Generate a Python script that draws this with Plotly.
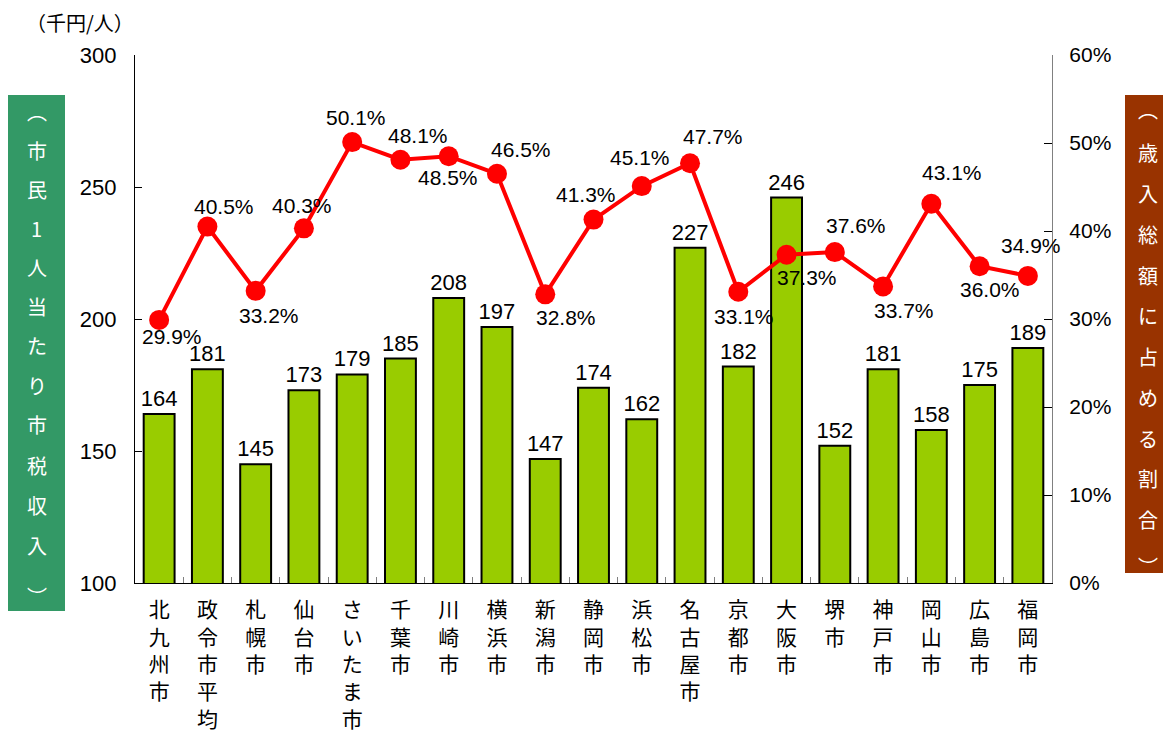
import plotly.graph_objects as go

cities = ["北九州市", "政令市平均", "札幌市", "仙台市", "さいたま市", "千葉市", "川崎市", "横浜市",
          "新潟市", "静岡市", "浜松市", "名古屋市", "京都市", "大阪市", "堺市", "神戸市",
          "岡山市", "広島市", "福岡市"]
tax_per_capita = [164, 181, 145, 173, 179, 185, 208, 197, 147, 174, 162, 227, 182, 246, 152, 181, 158, 175, 189]
share_pct = [29.9, 40.5, 33.2, 40.3, 50.1, 48.1, 48.5, 46.5, 32.8, 41.3, 45.1, 47.7, 33.1, 37.3, 37.6, 33.7, 43.1, 36.0, 34.9]
left_title = ["︵", "市", "民", "1", "人", "当", "た", "り", "市", "税", "収", "入", "︶"]
right_title = ["︵", "歳", "入", "総", "額", "に", "占", "め", "る", "割", "合", "︶"]
unit_label = "（千円/人）"

# label offsets (pixels) of the percentage labels relative to their points
lab_dx = [13, 17, 13, -2, 4, 18, -1, 24, 21, -8, -2, 23, 6, 20, 21, 21, 21, 10, 3]
lab_dy = [18, -19, 26, -22, -24, -23, 22, -23, 24, -24, -28, -26, 26, 24, -26, 25, -30, 24, -29]

OFF = 8  # browser body margin
W, H = 1171 - OFF, 731 - OFF
SL, SR, ST, SB = 135, 1052, 55, 583  # plot area in screen pixels
L, R, T, B = SL - OFF, SR - OFF, ST - OFF, SB - OFF
CJK = "Noto Sans CJK JP"
LAT = "Liberation Sans, Arial, sans-serif"


def px(x):
    return (x - SL) / (SR - SL)


def py(y):
    return (SB - y) / (SB - ST)


tick_text = ["<br>".join(list(c)) for c in cities]

fig = go.Figure()
fig.add_trace(go.Bar(
    x=cities, y=tax_per_capita,
    marker=dict(color="#99CC00", line=dict(color="#000000", width=2)),
    text=[str(v) for v in tax_per_capita], textposition="outside", constraintext="none",
    textfont=dict(family=LAT, size=22, color="#000000"),
    cliponaxis=False, yaxis="y", width=0.64,
))
fig.add_trace(go.Scatter(
    x=cities, y=share_pct, yaxis="y2", mode="lines+markers",
    line=dict(color="#FF0000", width=4),
    marker=dict(color="#FF0000", size=20),
    cliponaxis=False,
))

shapes = [
    dict(type="rect", xref="paper", yref="paper", x0=px(8), x1=px(65), y0=py(611), y1=py(95),
         fillcolor="#339966", line=dict(width=0), layer="below"),
    dict(type="rect", xref="paper", yref="paper", x0=px(1125), x1=px(1180), y0=py(573), y1=py(95),
         fillcolor="#993300", line=dict(width=0), layer="below"),
]

annotations = [
    dict(text=unit_label, xref="paper", yref="paper", x=px(24), y=py(22), xanchor="left", yanchor="middle",
         showarrow=False, font=dict(family=CJK, size=20, color="#000000")),
]
for c, v, dx, dy in zip(cities, share_pct, lab_dx, lab_dy):
    annotations.append(dict(text=f"{v:.1f}%", xref="x", yref="y2", x=c, y=v,
                            xanchor="center", yanchor="middle", xshift=dx, yshift=-dy + 1,
                            showarrow=False, font=dict(family=LAT, size=21, color="#000000")))
left_y = [112, 150, 189, 228, 267, 306, 345, 385, 425, 465, 505, 545, 596]
for ch, yy in zip(left_title, left_y):
    annotations.append(dict(text=ch, xref="paper", yref="paper", x=px(36.5), y=py(yy),
                            xanchor="center", yanchor="middle", showarrow=False,
                            font=dict(family=CJK, size=20, color="#FFFFFF")))
right_y = [110, 152, 193, 234, 275, 315, 356, 397, 438, 478, 519, 566]
for ch, yy in zip(right_title, right_y):
    annotations.append(dict(text=ch, xref="paper", yref="paper", x=px(1148), y=py(yy),
                            xanchor="center", yanchor="middle", showarrow=False,
                            font=dict(family=CJK, size=20, color="#FFFFFF")))

fig.update_layout(
    width=W, height=H,
    margin=dict(l=L, r=W - R, t=T, b=H - B, pad=0, autoexpand=False),
    paper_bgcolor="#FFFFFF", plot_bgcolor="#FFFFFF",
    showlegend=False,
    bargap=0.36,
    xaxis=dict(
        range=[-0.5, len(cities) - 0.5], automargin=False,
        tickmode="array", tickvals=cities, ticktext=tick_text,
        tickfont=dict(family=CJK, size=21, color="#000000"),
        showline=True, linecolor="#000000", linewidth=1.2,
        ticks="inside", tickson="boundaries", ticklen=6, tickcolor="#808080",
        showgrid=False, zeroline=False, tickangle=0, ticklabelstandoff=8,
    ),
    yaxis=dict(
        range=[100, 300], dtick=50, tick0=100, automargin=False,
        tickfont=dict(family=LAT, size=22, color="#000000"),
        showline=True, linecolor="#000000", linewidth=1.2,
        ticks="inside", ticklen=7, tickcolor="#000000",
        showgrid=False, zeroline=False, ticklabelstandoff=13,
    ),
    yaxis2=dict(
        range=[0, 60], dtick=10, tick0=0, ticksuffix="%", overlaying="y", side="right", automargin=False,
        tickfont=dict(family=LAT, size=21, color="#000000"),
        showline=True, linecolor="#808080", linewidth=1.2,
        ticks="inside", ticklen=8, tickcolor="#000000",
        showgrid=False, zeroline=False, ticklabelstandoff=12,
    ),
    shapes=shapes,
    annotations=annotations,
)

fig.write_html("out.html")
